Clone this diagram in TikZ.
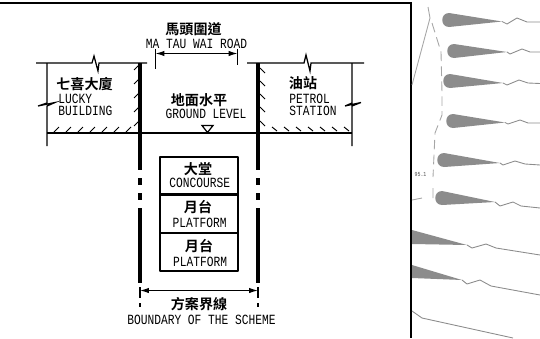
\documentclass[tikz,border=0pt]{standalone}
\usepackage{fontspec}
\newfontfamily\enfont[FakeStretch=0.8]{Liberation Mono}
\newfontfamily\cjk{Noto Sans CJK TC Bold}
\usetikzlibrary{arrows.meta}

\tikzset{
	cnlabel/.style={inner sep=0pt,font=\cjk\fontsize{8}{8}\selectfont},
	enlabel/.style={inner sep=0pt,align=center,font=\enfont\fontsize{8}{7.2}\selectfont},
	wall/.style={line width=1.9pt},
	boxline/.style={line width=1.6pt},
	thinline/.style={line width=0.7pt},
	hatch/.style={line width=0.55pt},
	dimline/.style={line width=0.6pt,{Latex[length=5pt,width=3pt]}-{Latex[length=5pt,width=3pt]}},
	lobe/.style={fill=black!45,draw=none},
	terrain/.style={line width=0.5pt,draw=black!45},
}

\begin{document}
\begin{tikzpicture}[x=0.02cm,y=-0.02cm]
	\useasboundingbox (0,0) rectangle (540,338);

	% frame
	\draw[line width=1.5pt] (0,3) -- (411,3) -- (411,338);

	% road
	\node[cnlabel] (roadcn) at (193.5,29) {馬頭圍道};
	\node[enlabel] (roaden) at (196.5,44) {MA TAU WAI ROAD};
	\coordinate (roadl) at (155.5,53.5);
	\coordinate (roadr) at (237.5,53.5);
	\draw[thinline] (155.5,49) -- (155.5,69);
	\draw[thinline] (237.5,49) -- (237.5,65);
	\draw[dimline] (roadl) -- (roadr);

	% left building
	\draw[thinline] (36,63) -- (92,63) -- (94,56) -- (98,71) -- (99,63) -- (147,63);
	\draw[thinline] (47,63) -- (47,103) -- (38,106) -- (55,102.5) -- (47,106) -- (47,146);
	\foreach \hx in {54,66,78,90,102,114,126}
		\draw[hatch] (\hx,132) -- (\hx+5,127);
	\foreach \hy in {70,84,98,112,126}
		\draw[hatch] (134,\hy) -- (139,\hy-5);
	\node[cnlabel] (luckycn) at (84.5,84) {七喜大廈};
	\node[enlabel,align=left,anchor=west] (lucky) at (58,105) {LUCKY\\BUILDING};

	% right building
	\draw[thinline] (247,63) -- (304,63) -- (306,55) -- (310,71) -- (311,63) -- (364,63);
	\draw[thinline] (352,63) -- (352,103) -- (345,106) -- (361,102.5) -- (352,106) -- (352,146);
	\foreach \hx in {272,284,296,308,320,332,344}
		\draw[hatch] (\hx,127) -- (\hx+5,131);
	\foreach \hy in {68,81,94,107,121}
		\draw[hatch] (260,\hy) -- (265,\hy+5);
	\node[cnlabel] (petrolcn) at (303,83) {油站};
	\node[enlabel,align=left,anchor=west] (petrol) at (289,105) {PETROL\\STATION};

	% ground
	\draw[line width=0.9pt] (47,133) -- (352,133);
	\node[cnlabel] (groundcn) at (199,100) {地面水平};
	\node[enlabel] (grounden) at (206,114) {GROUND LEVEL};
	\draw[line width=0.7pt] (202,125.5) -- (213,125.5) -- (207.5,132.5) -- cycle;

	% walls
	\foreach \wx in {140,258} {
		\draw[wall] (\wx,63) -- (\wx,170);
		\draw[wall] (\wx,178) -- (\wx,185);
		\draw[wall] (\wx,193) -- (\wx,200);
		\draw[wall] (\wx,208) -- (\wx,283);
	}

	% station box
	\node[cnlabel] (concn) at (198,169.5) {大堂};
	\node[enlabel] (conen) at (199.7,183) {CONCOURSE};
	\node[cnlabel] (platacn) at (198,207) {月台};
	\node[enlabel] (plataen) at (199.6,223) {PLATFORM};
	\node[cnlabel] (platbcn) at (199,246) {月台};
	\node[enlabel] (platben) at (200.2,261.5) {PLATFORM};
	\draw[boxline,line join=round] (160,157) rectangle (238,271);
	\draw[boxline] (160,194.5) -- (238,194.5);
	\draw[boxline] (160,233) -- (238,233);

	% boundary
	\coordinate (bndl) at (140,290.5);
	\coordinate (bndr) at (258,290.5);
	\draw[dimline] (bndl) -- (bndr);
	\foreach \wx in {140,258} {
		\draw[line width=1.1pt] (\wx,287) -- (\wx,298);
		\draw[thinline] (\wx,303) -- (\wx,307);
	}
	\node[cnlabel] (bndcn) at (199,304) {方案界線};
	\node[enlabel] (bnden) at (201.5,320) {BOUNDARY OF THE SCHEME};

	% contour lines
	\draw[terrain,black!35] (412,85) -- (430,18) -- (428,7);
	\draw[terrain,black!35,dash pattern=on 5.5pt off 3pt] (432,23) -- (441,52) -- (442,93) -- (442,115) -- (435,133) -- (433,177);
	\draw[terrain,black!35] (412,200) -- (422,198) (433,188) -- (433,198);
	\node[inner sep=0pt,font=\enfont\fontsize{3.5}{3.5}\selectfont,text=black!70] (spot) at (420.5,174) {95.1};

	% lobes
	\foreach \lx/\ly/\ex/\ey in {442/13/502/21.5,447/44/507/52,443/74/503/83,446/114/505/122.5,437/153/500/163,435/191/495/202}
		\fill[lobe] (\ex,\ey) -- (\lx+7,\ly) .. controls (\lx-2,\ly) and (\lx-2,\ly+14) .. (\lx+7,\ly+14) -- cycle;
	\fill[lobe] (412,230) -- (467,245) -- (412,244) -- cycle;
	\fill[lobe] (412,265) -- (462,280) -- (412,278) -- cycle;

	\draw[terrain] (502,21.5) -- (507,24) -- (517,18) -- (527,22) -- (540,22);
	\draw[terrain] (507,52) -- (510,54) -- (522,49) -- (530,52) -- (540,52);
	\draw[terrain] (503,83) -- (507,85) -- (519,80) -- (528,83) -- (540,83.5);
	\draw[terrain] (505,122.5) -- (508,124) -- (520,120) -- (528,123) -- (540,123);
	\draw[terrain] (500,163) -- (503,165) -- (515,161) -- (525,164) -- (540,165);
	\draw[terrain] (495,202) -- (500,206) -- (513,202) -- (521,206) -- (540,208);
	\draw[terrain] (467,245) -- (472,248) -- (486,244) -- (496,248) -- (540,255);
	\draw[terrain] (462,280) -- (467,284) -- (480,280) -- (491,286) -- (540,295);
	\draw[terrain] (412,311) -- (422,318) -- (513,338);
\end{tikzpicture}
\end{document}
